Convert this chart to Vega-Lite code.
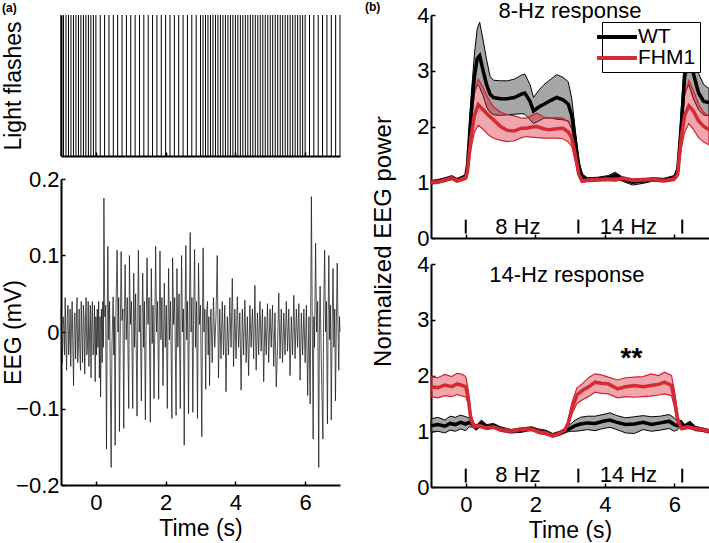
{
"$schema": "https://vega.github.io/schema/vega-lite/v6.json",
"autosize": {"type": "pad"},
"padding": {"left": 1, "top": 0, "right": 0, "bottom": 0},
"background": "white",
"config": {
  "font": "Liberation Sans",
  "view": {"stroke": null},
  "axis": {"domainColor": "black", "domainWidth": 2, "tickColor": "black", "tickWidth": 1.5, "tickSize": -4, "labelFontSize": 22, "labelColor": "black", "titleFontSize": 23, "titleFontWeight": "normal", "titleColor": "black", "grid": false, "labelPadding": 6, "zindex": 1, "format": "~g"},
  "axisX": {"labelPadding": 11}
},
"datasets": {
  "flashes": [
    {"t":-1},{"t":-0.929},{"t":-0.857},{"t":-0.786},{"t":-0.714},{"t":-0.643},{"t":-0.571},{"t":-0.5},{"t":-0.429},{"t":-0.357},{"t":-0.286},{"t":-0.214},{"t":-0.143},{"t":-0.071},
    {"t":0},{"t":0.125},{"t":0.25},{"t":0.375},{"t":0.5},{"t":0.625},{"t":0.75},{"t":0.875},{"t":1},{"t":1.125},{"t":1.25},{"t":1.375},{"t":1.5},{"t":1.625},{"t":1.75},{"t":1.875},{"t":2},{"t":2.125},{"t":2.25},{"t":2.375},{"t":2.5},{"t":2.625},{"t":2.75},{"t":2.875},
    {"t":3},{"t":3.071},{"t":3.143},{"t":3.214},{"t":3.286},{"t":3.357},{"t":3.429},{"t":3.5},{"t":3.571},{"t":3.643},{"t":3.714},{"t":3.786},{"t":3.857},{"t":3.929},{"t":4},{"t":4.071},{"t":4.143},{"t":4.214},{"t":4.286},{"t":4.357},{"t":4.429},{"t":4.5},{"t":4.571},{"t":4.643},{"t":4.714},{"t":4.786},{"t":4.857},{"t":4.929},{"t":5},{"t":5.071},{"t":5.143},{"t":5.214},{"t":5.286},{"t":5.357},{"t":5.429},{"t":5.5},{"t":5.571},{"t":5.643},{"t":5.714},{"t":5.786},{"t":5.857},{"t":5.929},
    {"t":6},{"t":6.125},{"t":6.25},{"t":6.375},{"t":6.5},{"t":6.625},{"t":6.75},{"t":6.875},{"t":7}
  ],
  "eeg": [
    {"t":-1,"v":0.03},{"t":-0.98,"v":-0.02},{"t":-0.96,"v":-0.04},{"t":-0.94,"v":0.02},{"t":-0.92,"v":0.01},{"t":-0.9,"v":-0.03},{"t":-0.88,"v":0.045},{"t":-0.86,"v":-0.01},{"t":-0.84,"v":-0.05},{"t":-0.82,"v":0.02},{"t":-0.8,"v":0.035},{"t":-0.78,"v":-0.03},{"t":-0.76,"v":-0.01},{"t":-0.74,"v":0.03},{"t":-0.72,"v":-0.045},{"t":-0.7,"v":0.005},{"t":-0.68,"v":0.04},{"t":-0.66,"v":-0.02},{"t":-0.64,"v":-0.07},{"t":-0.62,"v":0.02},{"t":-0.6,"v":0.025},{"t":-0.58,"v":-0.035},{"t":-0.56,"v":0.01},{"t":-0.54,"v":0.045},{"t":-0.52,"v":-0.04},{"t":-0.5,"v":-0.015},{"t":-0.48,"v":0.03},{"t":-0.46,"v":-0.025},{"t":-0.44,"v":-0.05},{"t":-0.42,"v":0.04},{"t":-0.4,"v":0},{"t":-0.38,"v":-0.04},{"t":-0.36,"v":0.035},{"t":-0.34,"v":0.02},{"t":-0.32,"v":-0.055},{"t":-0.3,"v":0.01},{"t":-0.28,"v":0.045},{"t":-0.26,"v":-0.03},{"t":-0.24,"v":-0.02},{"t":-0.22,"v":0.04},{"t":-0.2,"v":-0.045},{"t":-0.18,"v":0},{"t":-0.16,"v":0.035},{"t":-0.14,"v":-0.06},{"t":-0.12,"v":0.01},{"t":-0.1,"v":0.04},{"t":-0.08,"v":-0.03},{"t":-0.06,"v":-0.015},{"t":-0.04,"v":0.035},{"t":-0.02,"v":-0.065},{"t":0,"v":0.02},
    {"t":0.02,"v":-0.03},{"t":0.04,"v":0.03},{"t":0.06,"v":-0.02},{"t":0.08,"v":0.04},{"t":0.1,"v":-0.06},{"t":0.12,"v":0.02},{"t":0.135,"v":-0.085},{"t":0.16,"v":0.03},{"t":0.18,"v":-0.04},{"t":0.2,"v":0.04},{"t":0.215,"v":-0.02},
    {"t":0.23,"v":0.175},{"t":0.255,"v":0.02},{"t":0.28,"v":0.035},{"t":0.305,"v":-0.153},{"t":0.325,"v":0.01},
    {"t":0.343,"v":0.112},{"t":0.368,"v":-0.01},{"t":0.393,"v":0.04},{"t":0.438,"v":-0.177},{"t":0.46,"v":-0.02},
    {"t":0.495,"v":0.046},{"t":0.515,"v":-0.03},{"t":0.53,"v":0.02},{"t":0.552,"v":-0.148},{"t":0.575,"v":0.03},
    {"t":0.61,"v":0.107},{"t":0.635,"v":0},{"t":0.655,"v":0.045},{"t":0.676,"v":-0.13},{"t":0.698,"v":-0.01},
    {"t":0.724,"v":0.105},{"t":0.75,"v":0.015},{"t":0.775,"v":0.03},{"t":0.8,"v":-0.126},{"t":0.82,"v":0.02},
    {"t":0.838,"v":0.088},{"t":0.87,"v":-0.01},{"t":0.9,"v":0.045},{"t":0.943,"v":-0.1},
    {"t":0.962,"v":0.1},{"t":0.99,"v":0.01},{"t":1.02,"v":0.04},{"t":1.057,"v":-0.1},{"t":1.072,"v":0},
    {"t":1.086,"v":0.077},{"t":1.11,"v":-0.02},{"t":1.14,"v":0.05},{"t":1.18,"v":-0.11},{"t":1.2,"v":0.01},
    {"t":1.219,"v":0.107},{"t":1.245,"v":0},{"t":1.27,"v":0.035},{"t":1.305,"v":-0.09},{"t":1.325,"v":0.02},
    {"t":1.343,"v":0.077},{"t":1.37,"v":-0.02},{"t":1.39,"v":0.04},{"t":1.419,"v":-0.115},{"t":1.44,"v":0},
    {"t":1.467,"v":0.097},{"t":1.495,"v":0.01},{"t":1.525,"v":0.045},{"t":1.562,"v":-0.118},{"t":1.577,"v":0.02},
    {"t":1.59,"v":0.083},{"t":1.615,"v":-0.015},{"t":1.64,"v":0.035},{"t":1.667,"v":-0.087},{"t":1.69,"v":0.01},
    {"t":1.714,"v":0.112},{"t":1.74,"v":0},{"t":1.77,"v":0.04},{"t":1.8,"v":-0.088},{"t":1.82,"v":0.02},
    {"t":1.838,"v":0.106},{"t":1.865,"v":-0.01},{"t":1.895,"v":0.045},{"t":1.924,"v":-0.07},{"t":1.945,"v":0},
    {"t":1.962,"v":0.064},{"t":1.99,"v":-0.02},{"t":2.02,"v":0.035},{"t":2.048,"v":-0.1},{"t":2.068,"v":0.01},
    {"t":2.086,"v":0.083},{"t":2.11,"v":-0.01},{"t":2.14,"v":0.04},{"t":2.18,"v":-0.113},{"t":2.19,"v":0},
    {"t":2.2,"v":0.097},{"t":2.23,"v":0.01},{"t":2.26,"v":0.045},{"t":2.3,"v":-0.109},{"t":2.312,"v":0},
    {"t":2.324,"v":0.083},{"t":2.35,"v":-0.02},{"t":2.385,"v":0.05},{"t":2.42,"v":-0.1},{"t":2.44,"v":0.02},
    {"t":2.457,"v":0.1},{"t":2.485,"v":0},{"t":2.51,"v":0.03},{"t":2.533,"v":-0.148},{"t":2.555,"v":0.01},
    {"t":2.58,"v":0.113},{"t":2.605,"v":-0.01},{"t":2.63,"v":0.04},{"t":2.657,"v":-0.107},{"t":2.68,"v":0.02},
    {"t":2.705,"v":0.13},{"t":2.73,"v":0},{"t":2.755,"v":0.045},{"t":2.78,"v":-0.105},{"t":2.8,"v":0.01},
    {"t":2.83,"v":0.108},{"t":2.855,"v":-0.02},{"t":2.885,"v":0.04},{"t":2.914,"v":-0.113},{"t":2.93,"v":0},
    {"t":2.943,"v":0.09},{"t":2.97,"v":0.01},{"t":3,"v":0.035},{"t":3.038,"v":-0.137},{"t":3.055,"v":0.01},
    {"t":3.076,"v":0.11},{"t":3.1,"v":0},{"t":3.125,"v":0.03},{"t":3.15,"v":-0.075},{"t":3.17,"v":0.02},
    {"t":3.2,"v":0.04},{"t":3.22,"v":-0.03},{"t":3.24,"v":0.02},{"t":3.26,"v":-0.07},{"t":3.28,"v":0.01},
    {"t":3.3,"v":0.03},{"t":3.336,"v":-0.04},{"t":3.372,"v":0.045},{"t":3.408,"v":-0.02},{"t":3.444,"v":0.02},{"t":3.48,"v":0.1},{"t":3.516,"v":-0.06},{"t":3.552,"v":0.03},{"t":3.588,"v":-0.035},{"t":3.624,"v":0.04},{"t":3.66,"v":-0.03},{"t":3.696,"v":0.035},{"t":3.732,"v":-0.078},{"t":3.768,"v":0.02},{"t":3.804,"v":-0.03},{"t":3.84,"v":0.045},{"t":3.876,"v":-0.02},{"t":3.912,"v":0.07},{"t":3.948,"v":-0.045},{"t":3.984,"v":0.03},
    {"t":4.02,"v":-0.035},{"t":4.056,"v":0.046},{"t":4.092,"v":-0.02},{"t":4.128,"v":0.025},{"t":4.164,"v":-0.076},{"t":4.2,"v":0.03},{"t":4.236,"v":-0.03},{"t":4.272,"v":0.042},{"t":4.308,"v":-0.04},{"t":4.344,"v":0.02},{"t":4.38,"v":-0.057},{"t":4.416,"v":0.035},{"t":4.452,"v":-0.02},{"t":4.488,"v":0.03},{"t":4.524,"v":-0.035},{"t":4.56,"v":0.061},{"t":4.596,"v":-0.05},{"t":4.632,"v":0.025},{"t":4.668,"v":-0.03},{"t":4.704,"v":0.04},{"t":4.74,"v":-0.025},{"t":4.776,"v":0.03},{"t":4.812,"v":-0.065},{"t":4.848,"v":0.02},{"t":4.884,"v":-0.03},{"t":4.92,"v":0.037},{"t":4.956,"v":-0.04},{"t":4.992,"v":0.03},
    {"t":5.028,"v":-0.02},{"t":5.064,"v":0.035},{"t":5.1,"v":-0.045},{"t":5.136,"v":0.025},{"t":5.172,"v":-0.072},{"t":5.208,"v":-0.02},{"t":5.244,"v":0.051},{"t":5.28,"v":-0.035},{"t":5.316,"v":0.03},{"t":5.352,"v":-0.04},{"t":5.388,"v":0.025},{"t":5.424,"v":-0.03},{"t":5.46,"v":0.04},{"t":5.496,"v":-0.025},{"t":5.532,"v":0.03},{"t":5.568,"v":-0.057},{"t":5.604,"v":0.02},{"t":5.64,"v":-0.03},{"t":5.676,"v":0.048},{"t":5.712,"v":-0.035},{"t":5.748,"v":0.03},{"t":5.784,"v":-0.02},{"t":5.82,"v":0.037},{"t":5.856,"v":-0.063},{"t":5.892,"v":0.025},{"t":5.928,"v":-0.03},{"t":5.964,"v":0.03},
    {"t":6,"v":-0.04},{"t":6.036,"v":0.035},{"t":6.072,"v":-0.083},{"t":6.108,"v":0.02},{"t":6.144,"v":-0.094},
    {"t":6.18,"v":0.177},{"t":6.205,"v":0.01},{"t":6.23,"v":-0.14},{"t":6.25,"v":0.02},{"t":6.27,"v":-0.02},{"t":6.3,"v":0.116},{"t":6.33,"v":0},{"t":6.36,"v":0.04},{"t":6.39,"v":-0.177},{"t":6.41,"v":0.01},{"t":6.43,"v":0.06},{"t":6.46,"v":-0.03},{"t":6.51,"v":-0.14},{"t":6.53,"v":0.02},{"t":6.56,"v":0.107},{"t":6.585,"v":0},{"t":6.61,"v":0.04},{"t":6.64,"v":-0.12},{"t":6.66,"v":0.02},{"t":6.68,"v":0.1},{"t":6.705,"v":-0.01},{"t":6.725,"v":0.035},{"t":6.75,"v":-0.115},{"t":6.775,"v":0.01},{"t":6.8,"v":0.083},{"t":6.825,"v":-0.02},{"t":6.85,"v":0.03},{"t":6.87,"v":-0.09},{"t":6.895,"v":0.01},{"t":6.92,"v":0.09},{"t":6.945,"v":0},{"t":6.965,"v":-0.05},{"t":6.985,"v":0.02},{"t":7,"v":0}
  ],
  "p8": [
    {"g":"WT","t":-1,"m":1,"lo":0.97,"hi":1.03},{"g":"WT","t":-0.8,"m":1.02,"lo":0.99,"hi":1.05},{"g":"WT","t":-0.6,"m":1.05,"lo":1.02,"hi":1.08},{"g":"WT","t":-0.4,"m":1.08,"lo":1.05,"hi":1.12},{"g":"WT","t":-0.25,"m":1.04,"lo":1.01,"hi":1.07},{"g":"WT","t":-0.1,"m":1.08,"lo":1.05,"hi":1.11},{"g":"WT","t":0,"m":1.1,"lo":1.06,"hi":1.14},{"g":"WT","t":0.05,"m":1.3,"lo":1.25,"hi":1.4},{"g":"WT","t":0.15,"m":2.2,"lo":2,"hi":2.5},{"g":"WT","t":0.25,"m":2.9,"lo":2.6,"hi":3.3},{"g":"WT","t":0.33,"m":3.22,"lo":2.75,"hi":3.75},{"g":"WT","t":0.4,"m":3.27,"lo":2.7,"hi":3.87},{"g":"WT","t":0.5,"m":3,"lo":2.55,"hi":3.55},{"g":"WT","t":0.6,"m":2.75,"lo":2.35,"hi":3.2},{"g":"WT","t":0.7,"m":2.58,"lo":2.25,"hi":2.9},{"g":"WT","t":0.8,"m":2.52,"lo":2.21,"hi":2.83},{"g":"WT","t":1,"m":2.5,"lo":2.2,"hi":2.82},{"g":"WT","t":1.2,"m":2.5,"lo":2.21,"hi":2.82},{"g":"WT","t":1.4,"m":2.52,"lo":2.22,"hi":2.85},{"g":"WT","t":1.6,"m":2.58,"lo":2.23,"hi":2.92},{"g":"WT","t":1.7,"m":2.6,"lo":2.22,"hi":2.94},{"g":"WT","t":1.85,"m":2.45,"lo":2.12,"hi":2.75},{"g":"WT","t":1.95,"m":2.28,"lo":2.05,"hi":2.52},{"g":"WT","t":2.1,"m":2.35,"lo":2.1,"hi":2.65},{"g":"WT","t":2.25,"m":2.4,"lo":2.15,"hi":2.75},{"g":"WT","t":2.45,"m":2.47,"lo":2.15,"hi":2.85},{"g":"WT","t":2.62,"m":2.52,"lo":2.13,"hi":2.93},{"g":"WT","t":2.8,"m":2.48,"lo":2.12,"hi":2.88},{"g":"WT","t":2.95,"m":2.4,"lo":2.1,"hi":2.8},{"g":"WT","t":3.05,"m":2.2,"lo":1.95,"hi":2.5},{"g":"WT","t":3.15,"m":1.75,"lo":1.6,"hi":1.95},{"g":"WT","t":3.25,"m":1.3,"lo":1.22,"hi":1.4},{"g":"WT","t":3.35,"m":1.1,"lo":1.06,"hi":1.15},{"g":"WT","t":3.5,"m":1.05,"lo":1.02,"hi":1.08},{"g":"WT","t":3.8,"m":1.06,"lo":1.03,"hi":1.09},{"g":"WT","t":4.1,"m":1.08,"lo":1.04,"hi":1.12},{"g":"WT","t":4.3,"m":1.13,"lo":1.08,"hi":1.18},{"g":"WT","t":4.5,"m":1.06,"lo":1.02,"hi":1.1},{"g":"WT","t":4.8,"m":1,"lo":0.95,"hi":1.04},{"g":"WT","t":5.1,"m":1.02,"lo":0.98,"hi":1.06},{"g":"WT","t":5.4,"m":1.05,"lo":1.02,"hi":1.08},{"g":"WT","t":5.7,"m":1.04,"lo":1.01,"hi":1.07},{"g":"WT","t":6,"m":1.08,"lo":1.05,"hi":1.12},{"g":"WT","t":6.1,"m":1.2,"lo":1.15,"hi":1.3},{"g":"WT","t":6.2,"m":2,"lo":1.8,"hi":2.3},{"g":"WT","t":6.3,"m":2.9,"lo":2.6,"hi":3.3},{"g":"WT","t":6.42,"m":3.25,"lo":2.75,"hi":3.85},{"g":"WT","t":6.55,"m":2.95,"lo":2.5,"hi":3.45},{"g":"WT","t":6.7,"m":2.6,"lo":2.3,"hi":2.95},{"g":"WT","t":6.85,"m":2.45,"lo":2.2,"hi":2.75},{"g":"WT","t":7,"m":2.43,"lo":2.2,"hi":2.68},
    {"g":"FHM1","t":-1,"m":1,"lo":0.97,"hi":1.03},{"g":"FHM1","t":-0.8,"m":1.01,"lo":0.98,"hi":1.04},{"g":"FHM1","t":-0.6,"m":1.04,"lo":1.01,"hi":1.07},{"g":"FHM1","t":-0.4,"m":1.08,"lo":1.05,"hi":1.11},{"g":"FHM1","t":-0.25,"m":1.03,"lo":1,"hi":1.06},{"g":"FHM1","t":-0.1,"m":1.06,"lo":1.03,"hi":1.09},{"g":"FHM1","t":0,"m":1.08,"lo":1.05,"hi":1.11},{"g":"FHM1","t":0.05,"m":1.2,"lo":1.15,"hi":1.25},{"g":"FHM1","t":0.15,"m":1.8,"lo":1.6,"hi":2.05},{"g":"FHM1","t":0.25,"m":2.2,"lo":1.9,"hi":2.6},{"g":"FHM1","t":0.36,"m":2.39,"lo":2.02,"hi":2.85},{"g":"FHM1","t":0.5,"m":2.3,"lo":1.95,"hi":2.7},{"g":"FHM1","t":0.65,"m":2.2,"lo":1.85,"hi":2.5},{"g":"FHM1","t":0.8,"m":2.12,"lo":1.79,"hi":2.35},{"g":"FHM1","t":1,"m":2,"lo":1.75,"hi":2.26},{"g":"FHM1","t":1.2,"m":1.93,"lo":1.73,"hi":2.21},{"g":"FHM1","t":1.4,"m":1.92,"lo":1.74,"hi":2.19},{"g":"FHM1","t":1.6,"m":1.97,"lo":1.8,"hi":2.15},{"g":"FHM1","t":1.75,"m":1.97,"lo":1.82,"hi":2.15},{"g":"FHM1","t":1.9,"m":1.99,"lo":1.81,"hi":2.2},{"g":"FHM1","t":2.05,"m":2,"lo":1.8,"hi":2.24},{"g":"FHM1","t":2.24,"m":1.96,"lo":1.79,"hi":2.17},{"g":"FHM1","t":2.4,"m":1.94,"lo":1.79,"hi":2.15},{"g":"FHM1","t":2.6,"m":1.96,"lo":1.79,"hi":2.16},{"g":"FHM1","t":2.8,"m":1.97,"lo":1.78,"hi":2.15},{"g":"FHM1","t":2.95,"m":1.9,"lo":1.72,"hi":2.08},{"g":"FHM1","t":3.05,"m":1.8,"lo":1.65,"hi":1.98},{"g":"FHM1","t":3.15,"m":1.5,"lo":1.38,"hi":1.65},{"g":"FHM1","t":3.25,"m":1.15,"lo":1.1,"hi":1.2},{"g":"FHM1","t":3.35,"m":1.02,"lo":1,"hi":1.05},{"g":"FHM1","t":3.5,"m":1.04,"lo":1.01,"hi":1.07},{"g":"FHM1","t":3.8,"m":1.05,"lo":1.02,"hi":1.08},{"g":"FHM1","t":4.1,"m":1.06,"lo":1.03,"hi":1.09},{"g":"FHM1","t":4.3,"m":1.05,"lo":1.02,"hi":1.08},{"g":"FHM1","t":4.5,"m":1.07,"lo":1.04,"hi":1.1},{"g":"FHM1","t":4.8,"m":1.03,"lo":1,"hi":1.06},{"g":"FHM1","t":5.1,"m":1.04,"lo":1.01,"hi":1.07},{"g":"FHM1","t":5.4,"m":1.05,"lo":1.02,"hi":1.08},{"g":"FHM1","t":5.7,"m":1.03,"lo":1,"hi":1.06},{"g":"FHM1","t":6,"m":1.06,"lo":1.03,"hi":1.09},{"g":"FHM1","t":6.1,"m":1.15,"lo":1.1,"hi":1.2},{"g":"FHM1","t":6.2,"m":1.8,"lo":1.6,"hi":2.05},{"g":"FHM1","t":6.3,"m":2.2,"lo":1.9,"hi":2.55},{"g":"FHM1","t":6.42,"m":2.37,"lo":2.05,"hi":2.82},{"g":"FHM1","t":6.55,"m":2.28,"lo":1.95,"hi":2.65},{"g":"FHM1","t":6.7,"m":2.1,"lo":1.8,"hi":2.4},{"g":"FHM1","t":6.85,"m":2,"lo":1.72,"hi":2.25},{"g":"FHM1","t":7,"m":1.94,"lo":1.67,"hi":2.18}
  ],
  "p14": [
    {"g":"WT","t":-1,"m":1.1,"lo":0.98,"hi":1.22},{"g":"WT","t":-0.8,"m":1.12,"lo":1,"hi":1.25},{"g":"WT","t":-0.6,"m":1.09,"lo":0.97,"hi":1.2},{"g":"WT","t":-0.45,"m":1.14,"lo":1.02,"hi":1.27},{"g":"WT","t":-0.3,"m":1.12,"lo":1,"hi":1.25},{"g":"WT","t":-0.15,"m":1.16,"lo":1.04,"hi":1.29},{"g":"WT","t":0,"m":1.13,"lo":1.01,"hi":1.26},{"g":"WT","t":0.1,"m":1.16,"lo":1.08,"hi":1.24},{"g":"WT","t":0.2,"m":1.12,"lo":1.07,"hi":1.17},{"g":"WT","t":0.3,"m":1.06,"lo":1.02,"hi":1.1},{"g":"WT","t":0.45,"m":1.15,"lo":1.1,"hi":1.2},{"g":"WT","t":0.6,"m":1.08,"lo":1.04,"hi":1.12},{"g":"WT","t":0.8,"m":1.1,"lo":1.06,"hi":1.14},{"g":"WT","t":1,"m":1.04,"lo":1,"hi":1.08},{"g":"WT","t":1.3,"m":1,"lo":0.97,"hi":1.03},{"g":"WT","t":1.6,"m":1.02,"lo":0.98,"hi":1.06},{"g":"WT","t":1.9,"m":1.05,"lo":1.02,"hi":1.08},{"g":"WT","t":2.1,"m":1,"lo":0.96,"hi":1.04},{"g":"WT","t":2.3,"m":0.98,"lo":0.94,"hi":1.02},{"g":"WT","t":2.5,"m":0.93,"lo":0.9,"hi":0.96},{"g":"WT","t":2.7,"m":0.96,"lo":0.93,"hi":1},{"g":"WT","t":2.9,"m":1.02,"lo":0.98,"hi":1.06},{"g":"WT","t":3,"m":1.05,"lo":1,"hi":1.12},{"g":"WT","t":3.15,"m":1.1,"lo":1,"hi":1.2},{"g":"WT","t":3.3,"m":1.13,"lo":1.01,"hi":1.25},{"g":"WT","t":3.5,"m":1.15,"lo":1.03,"hi":1.27},{"g":"WT","t":3.72,"m":1.14,"lo":1.01,"hi":1.27},{"g":"WT","t":3.95,"m":1.18,"lo":1.05,"hi":1.3},{"g":"WT","t":4.15,"m":1.2,"lo":1.07,"hi":1.33},{"g":"WT","t":4.35,"m":1.16,"lo":1.03,"hi":1.28},{"g":"WT","t":4.6,"m":1.12,"lo":0.97,"hi":1.24},{"g":"WT","t":4.85,"m":1.13,"lo":0.96,"hi":1.26},{"g":"WT","t":5.1,"m":1.16,"lo":1.03,"hi":1.28},{"g":"WT","t":5.35,"m":1.12,"lo":1,"hi":1.26},{"g":"WT","t":5.6,"m":1.15,"lo":1.02,"hi":1.27},{"g":"WT","t":5.85,"m":1.18,"lo":1.05,"hi":1.3},{"g":"WT","t":6,"m":1.12,"lo":1,"hi":1.24},{"g":"WT","t":6.1,"m":1.1,"lo":1.03,"hi":1.17},{"g":"WT","t":6.2,"m":1.15,"lo":1.08,"hi":1.2},{"g":"WT","t":6.3,"m":1.08,"lo":1.04,"hi":1.12},{"g":"WT","t":6.45,"m":1.14,"lo":1.08,"hi":1.18},{"g":"WT","t":6.6,"m":1.05,"lo":1.01,"hi":1.09},{"g":"WT","t":6.8,"m":1.03,"lo":1,"hi":1.06},{"g":"WT","t":7,"m":1,"lo":0.97,"hi":1.03},
    {"g":"FHM1","t":-1,"m":1.8,"lo":1.62,"hi":1.98},{"g":"FHM1","t":-0.8,"m":1.78,"lo":1.6,"hi":1.96},{"g":"FHM1","t":-0.6,"m":1.83,"lo":1.64,"hi":2.02},{"g":"FHM1","t":-0.4,"m":1.8,"lo":1.62,"hi":1.98},{"g":"FHM1","t":-0.25,"m":1.85,"lo":1.66,"hi":2.04},{"g":"FHM1","t":-0.1,"m":1.82,"lo":1.63,"hi":2.02},{"g":"FHM1","t":0,"m":1.8,"lo":1.62,"hi":1.98},{"g":"FHM1","t":0.07,"m":1.6,"lo":1.5,"hi":1.75},{"g":"FHM1","t":0.15,"m":1.2,"lo":1.15,"hi":1.3},{"g":"FHM1","t":0.25,"m":1.08,"lo":1.05,"hi":1.12},{"g":"FHM1","t":0.4,"m":1.1,"lo":1.07,"hi":1.13},{"g":"FHM1","t":0.6,"m":1.06,"lo":1.03,"hi":1.09},{"g":"FHM1","t":0.8,"m":1.08,"lo":1.05,"hi":1.11},{"g":"FHM1","t":1,"m":1.03,"lo":1,"hi":1.06},{"g":"FHM1","t":1.3,"m":1,"lo":0.97,"hi":1.03},{"g":"FHM1","t":1.6,"m":1.03,"lo":1,"hi":1.06},{"g":"FHM1","t":1.9,"m":1.04,"lo":1.01,"hi":1.07},{"g":"FHM1","t":2.1,"m":0.99,"lo":0.96,"hi":1.02},{"g":"FHM1","t":2.3,"m":0.97,"lo":0.94,"hi":1},{"g":"FHM1","t":2.5,"m":0.92,"lo":0.89,"hi":0.95},{"g":"FHM1","t":2.7,"m":0.96,"lo":0.93,"hi":0.99},{"g":"FHM1","t":2.85,"m":1.02,"lo":0.99,"hi":1.05},{"g":"FHM1","t":2.95,"m":1.15,"lo":1.1,"hi":1.2},{"g":"FHM1","t":3.05,"m":1.4,"lo":1.3,"hi":1.5},{"g":"FHM1","t":3.2,"m":1.65,"lo":1.5,"hi":1.78},{"g":"FHM1","t":3.35,"m":1.73,"lo":1.56,"hi":1.85},{"g":"FHM1","t":3.55,"m":1.8,"lo":1.63,"hi":1.97},{"g":"FHM1","t":3.72,"m":1.88,"lo":1.7,"hi":2.03},{"g":"FHM1","t":3.9,"m":1.86,"lo":1.68,"hi":2.01},{"g":"FHM1","t":4.1,"m":1.85,"lo":1.67,"hi":1.97},{"g":"FHM1","t":4.37,"m":1.76,"lo":1.6,"hi":1.92},{"g":"FHM1","t":4.6,"m":1.8,"lo":1.62,"hi":1.96},{"g":"FHM1","t":4.85,"m":1.82,"lo":1.61,"hi":1.97},{"g":"FHM1","t":5.1,"m":1.8,"lo":1.62,"hi":1.98},{"g":"FHM1","t":5.33,"m":1.82,"lo":1.63,"hi":2.03},{"g":"FHM1","t":5.55,"m":1.84,"lo":1.65,"hi":2},{"g":"FHM1","t":5.72,"m":1.88,"lo":1.67,"hi":2.06},{"g":"FHM1","t":5.92,"m":1.82,"lo":1.64,"hi":2},{"g":"FHM1","t":6,"m":1.6,"lo":1.45,"hi":1.75},{"g":"FHM1","t":6.1,"m":1.2,"lo":1.12,"hi":1.28},{"g":"FHM1","t":6.2,"m":1.06,"lo":1.02,"hi":1.1},{"g":"FHM1","t":6.4,"m":1.08,"lo":1.05,"hi":1.11},{"g":"FHM1","t":6.6,"m":1.05,"lo":1.02,"hi":1.08},{"g":"FHM1","t":6.8,"m":1.03,"lo":1,"hi":1.06},{"g":"FHM1","t":7,"m":1,"lo":0.97,"hi":1.03}
  ],
  "marks": [{"t":0},{"t":3.24},{"t":6.23}],
  "hz": [{"t":1.5,"lab":"8 Hz"},{"t":4.68,"lab":"14 Hz"}],
  "one": [{}]
},
"spacing": 23,
"resolve": {"scale": {"stroke": "independent"}},
"hconcat": [
  {
    "bounds": "flush",
    "spacing": 23,
    "vconcat": [
      {
        "width": 279, "height": 141,
        "layer": [
          {
            "data": {"name": "flashes"},
            "mark": {"type": "rule", "stroke": "black", "strokeWidth": 1},
            "encoding": {
              "x": {"field": "t", "type": "quantitative", "scale": {"domain": [-1, 7], "nice": false, "zero": false}, "axis": {"values": [0, 2, 4, 6], "labels": false, "title": null}},
              "y": {"datum": 0, "type": "quantitative", "scale": {"domain": [0, 1], "nice": false}, "axis": {"title": "Light flashes", "labels": false, "ticks": false, "titleX": -41, "titleBaseline": "alphabetic"}},
              "y2": {"datum": 1}
            }
          },
          {
            "data": {"name": "one"},
            "mark": {"type": "text", "align": "left", "baseline": "alphabetic", "fontSize": 12, "fontWeight": "bold", "color": "black"},
            "encoding": {
              "x": {"datum": -2.692, "type": "quantitative", "scale": {"domain": [-1, 7], "nice": false, "zero": false}},
              "y": {"datum": 1.0213, "type": "quantitative", "scale": {"domain": [0, 1], "nice": false}},
              "text": {"value": "(a)"}
            }
          }
        ]
      },
      {
        "width": 279, "height": 306,
        "data": {"name": "eeg"},
        "mark": {"type": "line", "stroke": "#1a1a1a", "strokeWidth": 0.75},
        "encoding": {
          "x": {"field": "t", "type": "quantitative", "scale": {"domain": [-1, 7], "nice": false, "zero": false}, "axis": {"values": [0, 2, 4, 6], "title": "Time (s)"}},
          "y": {"field": "v", "type": "quantitative", "scale": {"domain": [-0.2, 0.2], "nice": false}, "axis": {"values": [-0.2, -0.1, 0, 0.1, 0.2], "title": "EEG (mV)", "titleX": -41, "titleBaseline": "alphabetic"}}
        }
      }
    ]
  },
  {
    "bounds": "flush",
    "spacing": 26,
    "resolve": {"scale": {"stroke": "independent"}},
    "vconcat": [
      {
        "width": 278, "height": 223,
        "layer": [
          {
            "data": {"name": "p8"},
            "transform": [{"filter": "datum.g == 'WT'"}],
            "mark": {"type": "area", "fill": "#777777", "fillOpacity": 0.65, "stroke": "black", "strokeWidth": 1},
            "encoding": {
              "x": {"field": "t", "type": "quantitative", "scale": {"domain": [-1, 7], "nice": false, "zero": false}, "axis": {"values": [0, 2, 4, 6], "labels": false, "title": null}},
              "y": {"field": "lo", "type": "quantitative", "scale": {"domain": [0, 4], "nice": false}, "axis": {"values": [0, 1, 2, 3, 4], "title": null}},
              "y2": {"field": "hi"}
            }
          },
          {
            "data": {"name": "p8"},
            "transform": [{"filter": "datum.g == 'FHM1'"}],
            "mark": {"type": "area", "fill": "#d62030", "fillOpacity": 0.4, "stroke": "#d62030", "strokeWidth": 1.2},
            "encoding": {
              "x": {"field": "t", "type": "quantitative", "scale": {"domain": [-1, 7], "nice": false, "zero": false}},
              "y": {"field": "lo", "type": "quantitative", "scale": {"domain": [0, 4], "nice": false}},
              "y2": {"field": "hi"}
            }
          },
          {
            "data": {"name": "p8"},
            "mark": {"type": "line", "strokeWidth": 3.5},
            "encoding": {
              "x": {"field": "t", "type": "quantitative", "scale": {"domain": [-1, 7], "nice": false, "zero": false}},
              "y": {"field": "m", "type": "quantitative", "scale": {"domain": [0, 4], "nice": false}},
              "stroke": {"field": "g", "type": "nominal", "scale": {"domain": ["WT", "FHM1"], "range": ["black", "#d42a33"]},
                "legend": {"orient": "none", "legendX": 171, "legendY": 7, "title": null, "symbolType": "M-2.3,0H2.3", "symbolSize": 300, "symbolStrokeWidth": 4, "labelFontSize": 21, "labelColor": "black", "strokeColor": "black", "fillColor": "white", "padding": 4, "labelOffset": 10, "rowPadding": 0}}
            }
          },
          {
            "data": {"name": "marks"},
            "mark": {"type": "rule", "stroke": "black", "strokeWidth": 2},
            "encoding": {
              "x": {"field": "t", "type": "quantitative", "scale": {"domain": [-1, 7], "nice": false, "zero": false}},
              "y": {"datum": 0.08, "type": "quantitative", "scale": {"domain": [0, 4], "nice": false}},
              "y2": {"datum": 0.33}
            }
          },
          {
            "data": {"name": "hz"},
            "mark": {"type": "text", "fontSize": 22, "baseline": "alphabetic", "color": "black"},
            "encoding": {
              "x": {"field": "t", "type": "quantitative", "scale": {"domain": [-1, 7], "nice": false, "zero": false}},
              "y": {"datum": 0.07, "type": "quantitative", "scale": {"domain": [0, 4], "nice": false}},
              "text": {"field": "lab"}
            }
          },
          {
            "data": {"name": "one"},
            "mark": {"type": "text", "fontSize": 22, "baseline": "alphabetic", "color": "black"},
            "encoding": {
              "x": {"datum": 3.0, "type": "quantitative", "scale": {"domain": [-1, 7], "nice": false, "zero": false}},
              "y": {"datum": 3.946, "type": "quantitative", "scale": {"domain": [0, 4], "nice": false}},
              "text": {"value": "8-Hz response"}
            }
          },
          {
            "data": {"name": "one"},
            "mark": {"type": "text", "align": "left", "fontSize": 12, "fontWeight": "bold", "baseline": "alphabetic", "color": "black"},
            "encoding": {
              "x": {"datum": -2.899, "type": "quantitative", "scale": {"domain": [-1, 7], "nice": false, "zero": false}},
              "y": {"datum": 4.07, "type": "quantitative", "scale": {"domain": [0, 4], "nice": false}},
              "text": {"value": "(b)"}
            }
          }
        ]
      },
      {
        "width": 278, "height": 223,
        "layer": [
          {
            "data": {"name": "p14"},
            "transform": [{"filter": "datum.g == 'WT'"}],
            "mark": {"type": "area", "fill": "#777777", "fillOpacity": 0.65, "stroke": "black", "strokeWidth": 1},
            "encoding": {
              "x": {"field": "t", "type": "quantitative", "scale": {"domain": [-1, 7], "nice": false, "zero": false}, "axis": {"values": [0, 2, 4, 6], "title": "Time (s)"}},
              "y": {"field": "lo", "type": "quantitative", "scale": {"domain": [0, 4], "nice": false}, "axis": {"values": [0, 1, 2, 3, 4], "title": "Normalized EEG power", "titleFontSize": 24, "titleX": -41, "titleY": -23, "titleBaseline": "alphabetic"}},
              "y2": {"field": "hi"}
            }
          },
          {
            "data": {"name": "p14"},
            "transform": [{"filter": "datum.g == 'FHM1'"}],
            "mark": {"type": "area", "fill": "#d62030", "fillOpacity": 0.4, "stroke": "#d62030", "strokeWidth": 1.2},
            "encoding": {
              "x": {"field": "t", "type": "quantitative", "scale": {"domain": [-1, 7], "nice": false, "zero": false}},
              "y": {"field": "lo", "type": "quantitative", "scale": {"domain": [0, 4], "nice": false}},
              "y2": {"field": "hi"}
            }
          },
          {
            "data": {"name": "p14"},
            "mark": {"type": "line", "strokeWidth": 3.5},
            "encoding": {
              "x": {"field": "t", "type": "quantitative", "scale": {"domain": [-1, 7], "nice": false, "zero": false}},
              "y": {"field": "m", "type": "quantitative", "scale": {"domain": [0, 4], "nice": false}},
              "stroke": {"field": "g", "type": "nominal", "scale": {"domain": ["WT", "FHM1"], "range": ["black", "#d42a33"]}, "legend": null}
            }
          },
          {
            "data": {"name": "marks"},
            "mark": {"type": "rule", "stroke": "black", "strokeWidth": 2},
            "encoding": {
              "x": {"field": "t", "type": "quantitative", "scale": {"domain": [-1, 7], "nice": false, "zero": false}},
              "y": {"datum": 0.08, "type": "quantitative", "scale": {"domain": [0, 4], "nice": false}},
              "y2": {"datum": 0.33}
            }
          },
          {
            "data": {"name": "hz"},
            "mark": {"type": "text", "fontSize": 22, "baseline": "alphabetic", "color": "black"},
            "encoding": {
              "x": {"field": "t", "type": "quantitative", "scale": {"domain": [-1, 7], "nice": false, "zero": false}},
              "y": {"datum": 0.09, "type": "quantitative", "scale": {"domain": [0, 4], "nice": false}},
              "text": {"field": "lab"}
            }
          },
          {
            "data": {"name": "one"},
            "mark": {"type": "text", "fontSize": 22, "baseline": "alphabetic", "color": "black"},
            "encoding": {
              "x": {"datum": 2.91, "type": "quantitative", "scale": {"domain": [-1, 7], "nice": false, "zero": false}},
              "y": {"datum": 3.68, "type": "quantitative", "scale": {"domain": [0, 4], "nice": false}},
              "text": {"value": "14-Hz response"}
            }
          },
          {
            "data": {"name": "one"},
            "mark": {"type": "text", "fontSize": 28, "fontWeight": "bold", "baseline": "alphabetic", "color": "black"},
            "encoding": {
              "x": {"datum": 4.77, "type": "quantitative", "scale": {"domain": [-1, 7], "nice": false, "zero": false}},
              "y": {"datum": 2.16, "type": "quantitative", "scale": {"domain": [0, 4], "nice": false}},
              "text": {"value": "**"}
            }
          }
        ]
      }
    ]
  }
]
}
